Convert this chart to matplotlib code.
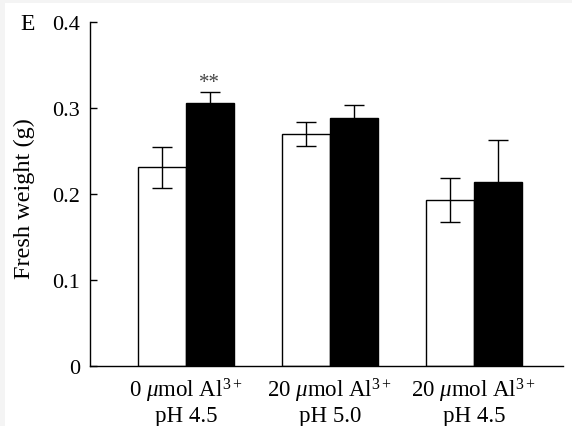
import matplotlib
matplotlib.use("Agg")
import matplotlib.pyplot as plt
from matplotlib.patches import Rectangle
import numpy as np

plt.rcParams['font.family'] = ['Liberation Serif', 'DejaVu Serif']
plt.rcParams['mathtext.fontset'] = 'custom'
plt.rcParams['mathtext.rm'] = 'Liberation Serif'
plt.rcParams['mathtext.it'] = 'Liberation Serif:italic'

categories = ["0 $\\mathit{\\mu}$mol Al$^{3+}$\npH 4.5",
              "20 $\\mathit{\\mu}$mol Al$^{3+}$\npH 5.0",
              "20 $\\mathit{\\mu}$mol Al$^{3+}$\npH 4.5"]
control_mean = [0.231, 0.270, 0.193]
control_err = [0.024, 0.014, 0.026]
treated_mean = [0.306, 0.288, 0.214]
treated_err = [0.013, 0.015, 0.049]
y_ticks = [0, 0.1, 0.2, 0.3, 0.4]
y_tick_labels = ["0", "0.1", "0.2", "0.3", "0.4"]

fig = plt.figure(figsize=(5.72, 4.27), dpi=100, facecolor="#f4f4f4")
fig.patches.append(Rectangle((5 / 572, 0), 1, 1 - 4 / 427, transform=fig.transFigure,
                             facecolor="white", edgecolor="none", zorder=-10))
ax = fig.add_axes([90 / 572, 60 / 427, (563 - 90) / 572, (367 - 23) / 427])
ax.set_facecolor("white")

x = np.arange(len(categories))
w = 0.333
ax.bar(x - w / 2, control_mean, w, color="white", edgecolor="black", linewidth=1.0,
       yerr=control_err, error_kw=dict(ecolor="black", elinewidth=1.0, capsize=7, capthick=1.0))
ax.bar(x + w / 2, treated_mean, w, color="black", edgecolor="black", linewidth=1.0,
       yerr=treated_err, error_kw=dict(ecolor="black", elinewidth=1.0, capsize=7, capthick=1.0))

ax.text(x[0] + w / 2, treated_mean[0] + treated_err[0] + 0.0, "**",
        ha="center", va="bottom", fontsize=15, color="#444444")

ax.set_xlim(-0.667, 2.62)
ax.set_ylim(0, 0.4)
ax.set_yticks(y_ticks)
ax.set_yticklabels(y_tick_labels, fontsize=16)
ax.set_xticks(x)
ax.set_xticklabels(categories, fontsize=16.5, linespacing=1.08)
ax.tick_params(axis="x", length=0, pad=7)
ax.tick_params(axis="y", direction="in", length=5, width=1.0, pad=7)
ax.spines["top"].set_visible(False)
ax.spines["right"].set_visible(False)
ax.spines["left"].set_linewidth(1.0)
ax.spines["bottom"].set_linewidth(1.0)

ax.set_ylabel("Fresh weight (g)", fontsize=17.5)
ax.yaxis.set_label_coords(-0.116, 0.49)
fig.text(20 / 572, 1 - 24 / 427, "E", fontsize=17, ha="left", va="center")

fig.savefig("out.png", dpi=100, facecolor=fig.get_facecolor())
